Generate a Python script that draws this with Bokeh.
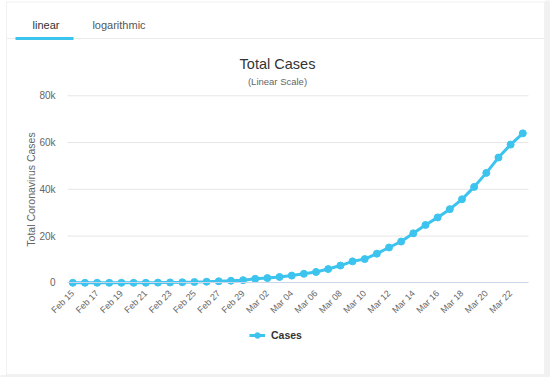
from math import pi
from bokeh.plotting import figure
from bokeh.models import (Range1d, FixedTicker, Label, BoxAnnotation, LinearAxis,
                          Legend, LegendItem)
from bokeh.embed import file_html
from bokeh.resources import INLINE

# ---- data ----
dates = ["Feb 15", "Feb 16", "Feb 17", "Feb 18", "Feb 19", "Feb 20", "Feb 21",
         "Feb 22", "Feb 23", "Feb 24", "Feb 25", "Feb 26", "Feb 27", "Feb 28",
         "Feb 29", "Mar 01", "Mar 02", "Mar 03", "Mar 04", "Mar 05", "Mar 06",
         "Mar 07", "Mar 08", "Mar 09", "Mar 10", "Mar 11", "Mar 12", "Mar 13",
         "Mar 14", "Mar 15", "Mar 16", "Mar 17", "Mar 18", "Mar 19", "Mar 20",
         "Mar 21", "Mar 22", "Mar 23"]
cases = [3, 3, 3, 3, 3, 3, 20, 79, 157, 229, 323, 470, 655, 889, 1128, 1694,
         2036, 2502, 3089, 3858, 4636, 5883, 7375, 9172, 10149, 12462, 15113,
         17660, 21157, 24747, 27980, 31506, 35713, 41035, 47021, 53578, 59138,
         63927]
y_ticks = [0, 20000, 40000, 60000, 80000]
y_tick_labels = ["0", "20k", "40k", "60k", "80k"]
x_tick_idx = list(range(0, len(dates), 2))

FONT = "Liberation Sans"
BLUE = "#3cc4ee"

# ---- layout constants (canvas px) ----
W, H = 550, 377
PLOT_L, PLOT_R = 67, 528          # plot area edges
X_FIRST, X_LAST = 72.3, 522.3     # first / last category centres
Y_ZERO, Y_TOP = 282.3, 95.3       # pixel rows of 0 and of the top tick

n = len(dates)
ppx = (X_LAST - X_FIRST) / (n - 1)
ppy = (Y_ZERO - Y_TOP) / (y_ticks[-1] - y_ticks[0])
x_start = 0 - X_FIRST / ppx
x_end = (n - 1) + (W - X_LAST) / ppx
y_start = y_ticks[0] - (H - Y_ZERO) / ppy
y_end = y_ticks[-1] + Y_TOP / ppy
x_left = 0 - (X_FIRST - PLOT_L) / ppx
x_right = (n - 1) + (PLOT_R - X_LAST) / ppx

xs = list(range(n))


def sx(cx):
    return cx


def sy(cy):
    return H - cy


p = figure(width=W, height=H, output_backend="svg", toolbar_location=None,
           x_range=Range1d(x_start, x_end), y_range=Range1d(y_start, y_end),
           x_axis_location=None, y_axis_location=None, min_border=0)
p.title.visible = False
p.outline_line_color = None
p.background_fill_color = "white"
p.border_fill_color = "white"
p.xgrid.visible = False
p.ygrid.visible = False


def box(l, r, t, b, **kw):
    return BoxAnnotation(left=sx(l), right=sx(r), top=sy(t), bottom=sy(b),
                         left_units="screen", right_units="screen",
                         top_units="screen", bottom_units="screen", **kw)


# outer card + outside strips
p.add_layout(box(544.5, W + 5, -5, H + 5, fill_color="#f1f1f1", fill_alpha=1,
                 line_alpha=0, level="image"))
p.add_layout(box(-5, W + 5, 374.5, H + 5, fill_color="#f1f1f1", fill_alpha=1,
                 line_alpha=0, level="image"))
p.add_layout(box(6, 544, 1.5, 374, fill_color="white", fill_alpha=1,
                 line_color="#cfcfcf", line_width=1, level="image"))

# tabs
p.add_layout(box(6.5, 543.5, 37.5, 38.5, fill_color="#ececec", fill_alpha=1,
                 line_alpha=0, level="image"))
p.add_layout(box(15, 73, 36.5, 39.5, fill_color=BLUE, fill_alpha=1, line_alpha=0,
                 level="image"))


def label(cx, cy, text, size, color, **kw):
    return Label(x=sx(cx), y=sy(cy), x_units="screen", y_units="screen",
                 text=text, text_font=FONT, text_font_size=size, text_color=color,
                 text_align="center", text_baseline="middle", **kw)


p.add_layout(label(45.5, 24, "linear", "11px", "#333333"))
p.add_layout(label(118.5, 24, "logarithmic", "11px", "#555555"))

# titles
p.add_layout(label(277, 63, "Total Cases", "14.5px", "#333333"))
p.add_layout(label(277, 80.5, "(Linear Scale)", "9.5px", "#666666"))
p.add_layout(label(30, 189, "Total Coronavirus Cases", "10.5px", "#666666",
                   angle=pi / 2))

# grid lines (at the y ticks) and the x axis line
p.segment(x0=[x_left] * (len(y_ticks) - 1), x1=[x_right] * (len(y_ticks) - 1),
          y0=y_ticks[1:], y1=y_ticks[1:], line_color="#e6e6e6", line_width=1)

# y axis drawn at the left edge of the plot area
yax = LinearAxis(fixed_location=x_left, ticker=FixedTicker(ticks=y_ticks))
yax.major_label_overrides = {t: l for t, l in zip(y_ticks, y_tick_labels)}
yax.axis_line_color = None
yax.major_tick_line_color = None
yax.minor_tick_line_color = None
yax.major_tick_out = 0
yax.major_tick_in = 0
yax.major_label_standoff = 12
yax.major_label_text_font = FONT
yax.major_label_text_font_size = "10px"
yax.major_label_text_color = "#666666"
p.add_layout(yax, "left")

# x axis drawn at y = 0
xax = LinearAxis(fixed_location=0, ticker=FixedTicker(ticks=x_tick_idx),
                 bounds=(x_left, x_right))
xax.major_label_overrides = {i: dates[i] for i in x_tick_idx}
xax.axis_line_color = "#ccd6eb"
xax.axis_line_width = 1
xax.major_tick_line_color = None
xax.minor_tick_line_color = None
xax.major_tick_out = 0
xax.major_tick_in = 0
xax.major_label_standoff = 9
xax.major_label_orientation = pi / 4
xax.major_label_text_font = FONT
xax.major_label_text_font_size = "9px"
xax.major_label_text_color = "#666666"
p.add_layout(xax, "below")

ln = p.line(xs, cases, line_color=BLUE, line_width=3)
sc = p.scatter(xs, cases, size=7, fill_color=BLUE, line_color=BLUE)

legend = Legend(items=[LegendItem(label="Cases", renderers=[ln, sc])],
                location=(sx(249), sy(342)))
legend.border_line_color = None
legend.background_fill_alpha = 0
legend.label_text_font = FONT
legend.label_text_font_style = "bold"
legend.label_text_font_size = "10.5px"
legend.label_text_color = "#333333"
legend.glyph_width = 16
legend.glyph_height = 14
legend.label_height = 14
legend.padding = 0
legend.margin = 0
legend.spacing = 0
legend.label_standoff = 6
p.add_layout(legend)

open("out.html", "w").write(file_html(p, INLINE))
